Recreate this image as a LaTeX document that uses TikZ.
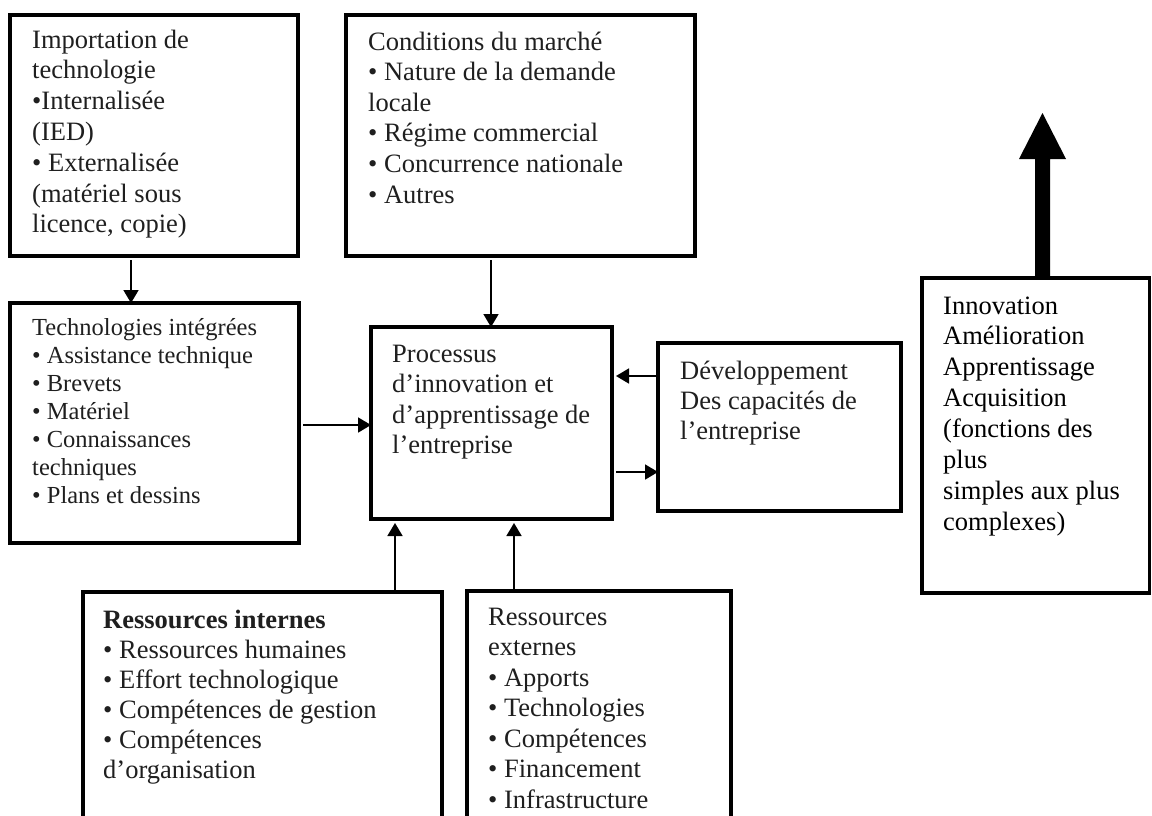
\documentclass[tikz,border=0pt]{standalone}
\usepackage{fontspec}
\setmainfont{Liberation Serif}
\usetikzlibrary{arrows.meta,calc}

% stack of left-aligned lines; the baseline of the first line is the box baseline
\newcommand\txtlines[2]{\vtop{\baselineskip=#1\lineskip=0pt\lineskiplimit=-\maxdimen
  \halign{##\hfil\cr#2\crcr}}}

\tikzset{
  box/.style={draw=black, line width=4pt, fill=white, rectangle, inner sep=0pt},
  frame/.style={inner sep=0pt, outer sep=2pt, anchor=north west},
  txt/.style={anchor=base west, inner sep=0pt, text=black!88, font=\fontsize{26.5}{30}\selectfont},
  arr/.style={draw=black, line width=1.8pt, -{Triangle[width=15pt,length=13pt]}},
}

\begin{document}
\begin{tikzpicture}[x=1pt, y=-1pt]
  \useasboundingbox (0,0) rectangle (1152,815);
  \clip (0,0) rectangle (1152,815);

  % frames
  \draw[box] (10,15) rectangle (298,256);
  \node[frame, minimum width=288pt, minimum height=241pt] (A) at (10,15) {};
  \draw[box] (10,303) rectangle (299,543);
  \node[frame, minimum width=289pt, minimum height=240pt] (B) at (10,303) {};
  \draw[box] (346,15) rectangle (695,256);
  \node[frame, minimum width=349pt, minimum height=241pt] (C) at (346,15) {};
  \draw[box] (371,327) rectangle (612,519);
  \node[frame, minimum width=241pt, minimum height=192pt] (P) at (371,327) {};
  \draw[box] (658,343) rectangle (901,511);
  \node[frame, minimum width=243pt, minimum height=168pt] (D) at (658,343) {};
  \draw[box] (83,592) rectangle (442,840);
  \node[frame, minimum width=359pt, minimum height=248pt] (E) at (83,592) {};
  \draw[box] (467,591) rectangle (731,840);
  \node[frame, minimum width=264pt, minimum height=249pt] (F) at (467,591) {};
  \draw[box, line width=3.5pt] (922,278) rectangle (1149.5,593);
  \node[frame, outer sep=1.75pt, minimum width=227.5pt, minimum height=315pt] (G) at (922,278) {};

  % texts
  \node[txt] (tA) at (32,48) {\txtlines{30.8pt}{Importation de\cr technologie\cr •Internalisée\cr (IED)\cr • Externalisée\cr (matériel sous\cr licence, copie)}};
  \node[txt, font=\fontsize{24.5}{28}\selectfont] (tB) at (32,335) {\txtlines{28pt}{Technologies intégrées\cr • Assistance technique\cr • Brevets\cr • Matériel\cr • Connaissances\cr techniques\cr • Plans et dessins}};
  \node[txt] (tC) at (368,50) {\txtlines{30.6pt}{Conditions du marché\cr • Nature de la demande\cr locale\cr • Régime commercial\cr • Concurrence nationale\cr • Autres}};
  \node[txt] (tP) at (392,362) {\txtlines{30.5pt}{Processus\cr d’innovation et\cr d’apprentissage de\cr l’entreprise}};
  \node[txt] (tD) at (680,379) {\txtlines{30pt}{Développement\cr Des capacités de\cr l’entreprise}};
  \node[txt] (tE) at (103,628) {\txtlines{30pt}{\textbf{Ressources internes}\cr • Ressources humaines\cr • Effort technologique\cr • Compétences de gestion\cr • Compétences\cr d’organisation}};
  \node[txt] (tF) at (488,625) {\txtlines{30.5pt}{Ressources\cr externes\cr • Apports\cr • Technologies\cr • Compétences\cr • Financement\cr • Infrastructure}};
  \node[txt, text=black] (tG) at (943,314) {\txtlines{30.9pt}{Innovation\cr Amélioration\cr Apprentissage\cr Acquisition\cr (fonctions des\cr plus\cr simples aux plus\cr complexes)}};

  % connectors
  \draw[arr] ([xshift=121pt]A.south west) -- ([xshift=121pt]B.north west);
  \draw[arr] ([xshift=145pt]C.south west) -- ([xshift=120pt]P.north west);
  \draw[arr] (B.east) -- (P.west);
  \draw[arr] ([yshift=-33pt]D.north west) -- ([yshift=-33pt]D.north west -| P.east);
  \draw[arr] ([yshift=-129pt]D.north west -| P.east) -- ([yshift=-129pt]D.north west);
  \draw[arr] ([xshift=312pt]E.north west) -- ([xshift=312pt]E.north west |- P.south);
  \draw[arr] ([xshift=47pt]F.north west) -- ([xshift=47pt]F.north west |- P.south);

  % broad upward arrow out of the right-hand box
  \coordinate (Gbase) at ([xshift=120.5pt]G.north west);
  \coordinate (Gtip) at (1042.5,113);
  \fill[black] ($(Gbase)+(-7.5,0)$) -- ($(Gtip)+(-7.5,46)$) -- ($(Gtip)+(-23.5,46)$) -- (Gtip)
    -- ($(Gtip)+(23.5,46)$) -- ($(Gtip)+(7.5,46)$) -- ($(Gbase)+(7.5,0)$) -- cycle;
\end{tikzpicture}
\end{document}
